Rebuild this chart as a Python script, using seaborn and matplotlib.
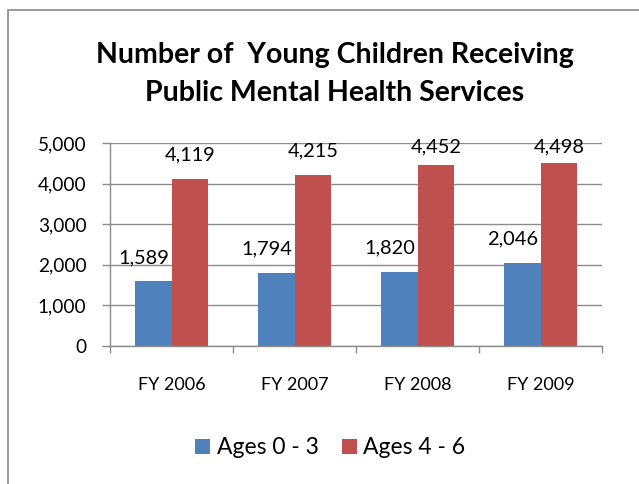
import matplotlib
matplotlib.use("Agg")
import matplotlib.pyplot as plt
import seaborn as sns
import pandas as pd
from matplotlib.patches import Rectangle, Patch

years = ["FY 2006", "FY 2007", "FY 2008", "FY 2009"]
ages_0_3 = [1589, 1794, 1820, 2046]
ages_4_6 = [4119, 4215, 4452, 4498]
series_names = ["Ages 0 - 3", "Ages 4 - 6"]
colors = ["#4F81BD", "#C0504D"]
title = "Number of  Young Children Receiving\nPublic Mental Health Services"

df = pd.DataFrame({
    "year": years * 2,
    "value": ages_0_3 + ages_4_6,
    "series": [series_names[0]] * 4 + [series_names[1]] * 4,
})

sns.set_theme(style="white")
plt.rcParams["font.family"] = ["Lato", "DejaVu Sans"]
plt.rcParams["text.color"] = "black"
plt.rcParams["xtick.labelcolor"] = "black"
plt.rcParams["ytick.labelcolor"] = "black"

fig = plt.figure(figsize=(6.39, 4.84), dpi=100)
ax = fig.add_axes([110/639, 1-346/484, (602-110)/639, (346-143)/484])

sns.barplot(data=df, x="year", y="value", hue="series", palette=colors,
            width=0.6, ax=ax, legend=False, saturation=1, edgecolor="none")

ax.set_ylim(0, 5000)
ax.set_xlim(-0.5, 3.5)
ax.set_yticks(range(0, 5001, 1000))
ax.set_yticklabels([f"{v:,}" for v in range(0, 5001, 1000)], fontsize=13.7, color="black")
ax.yaxis.grid(True, color="#8c8c8c", linewidth=1)
ax.set_axisbelow(True)
ax.set_xlabel("")
ax.set_ylabel("")

# x ticks at category boundaries, labels at centers
ax.set_xticks([-0.5, 0.5, 1.5, 2.5, 3.5])
ax.set_xticklabels([])
ax.set_xticks([0, 1, 2, 3], minor=True)
ax.set_xticklabels(years, minor=True, fontsize=13, color="black")
ax.tick_params(axis="x", which="major", direction="out", length=5, width=1, color="#8c8c8c", bottom=True)
ax.tick_params(axis="x", which="minor", length=0, pad=22)
ax.tick_params(axis="y", direction="out", length=6, width=1, color="#8c8c8c", left=True, pad=11)

for s in ["top", "right"]:
    ax.spines[s].set_visible(False)
for s in ["left", "bottom"]:
    ax.spines[s].set_color("#8c8c8c")
    ax.spines[s].set_linewidth(1)

# value labels (Excel-style: above bar, kept inside plot top)
containers = ax.containers
for cont, vals, dx in [(containers[0], ages_0_3, -7), (containers[1], ages_4_6, 0)]:
    for bar, v in zip(cont, vals):
        y = min(bar.get_height() + 590, 4900)
        ax.annotate(f"{v:,}", (bar.get_x() + bar.get_width()/2, y),
                    xytext=(dx, 0), textcoords="offset points",
                    ha="center", va="center", fontsize=14.4, color="black",
                    annotation_clip=False)

fig.text(0.524, 1-74/484, title, ha="center", va="center", fontsize=20.5,
         fontweight="bold", linespacing=1.6, color="black")

handles = [Patch(facecolor=c, edgecolor="none") for c in colors]
fig.legend(handles, series_names, loc="center", bbox_to_anchor=(0.517, 1-448/484),
           ncol=2, frameon=False, fontsize=16.5, handlelength=0.65, handleheight=0.65,
           handletextpad=0.3, columnspacing=1.0, labelcolor="black")

fig.patches.append(Rectangle((8/639, -0.1), 1.2, 1-10/484+0.1, transform=fig.transFigure,
                             fill=False, edgecolor="#8a8a8a", linewidth=1.2, figure=fig))

fig.savefig("out.png", dpi=100)
